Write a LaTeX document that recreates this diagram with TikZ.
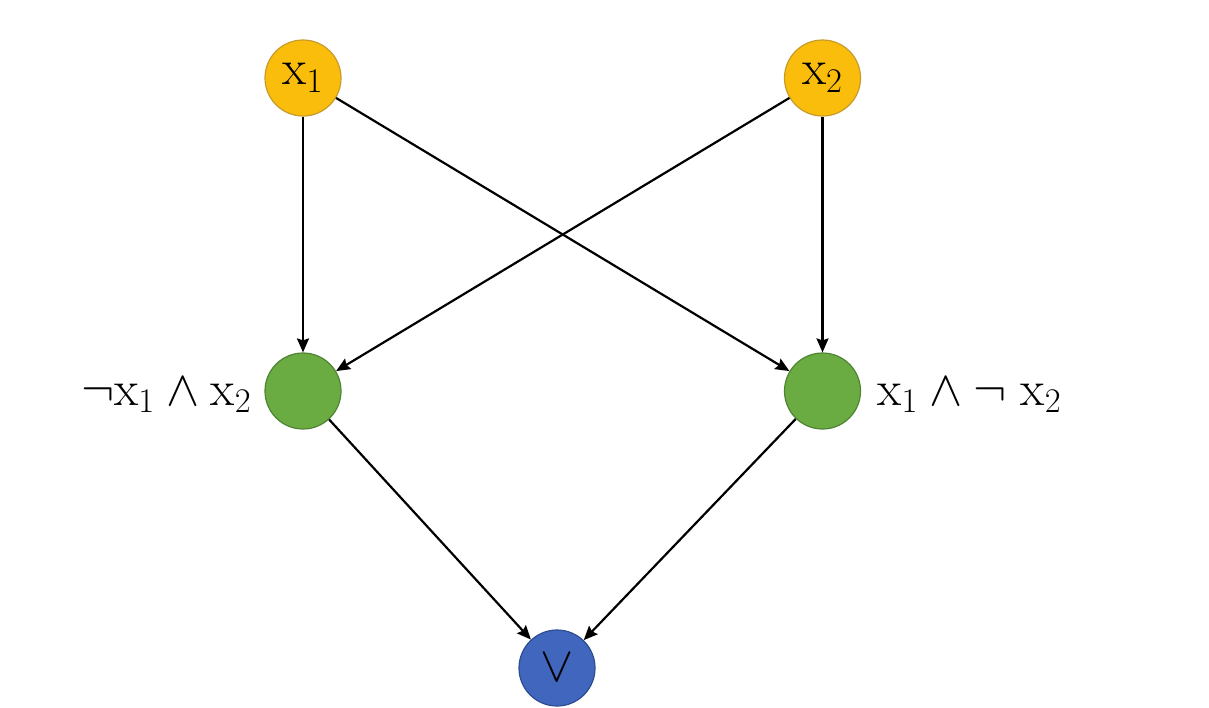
\documentclass[tikz,border=0pt]{standalone}
\usetikzlibrary{arrows.meta}
\definecolor{ygold}{HTML}{FBBD0C}
\definecolor{ygoldd}{HTML}{C79B2A}
\definecolor{ggreen}{HTML}{6BAC42}
\definecolor{ggreend}{HTML}{4E8433}
\definecolor{bblue}{HTML}{4066BE}
\definecolor{bblued}{HTML}{2E4C92}
\begin{document}
\begin{tikzpicture}[x=0.5pt,y=-0.5pt,
  vnode/.style={circle, minimum size=38pt, inner sep=0pt, line width=0.6pt, font=\fontsize{26}{31}\selectfont},
  lbl/.style={font=\fontsize{26.5}{32}\selectfont, inner sep=0pt},
  arr/.style={-{Stealth[length=7pt,width=6pt,inset=1pt]}, line width=1.1pt, black}]
\useasboundingbox (0,0) rectangle (1209,707);
\fill[white] (0,0) rectangle (1209,707);
\node[vnode, fill=ygold, draw=ygoldd] (x1) at (303,78) {$\mathrm{x}_1$};
\node[vnode, fill=ygold, draw=ygoldd] (x2) at (822.5,78) {$\mathrm{x}_2$};
\node[vnode, fill=ggreen, draw=ggreend] (g1) at (303,391) {};
\node[vnode, fill=ggreen, draw=ggreend] (g2) at (822.5,391) {};
\node[vnode, fill=bblue, draw=bblued] (v) at (557,668) {$\vee$};
\node[lbl, anchor=base east] (l1) at (252,405) {$\neg\mathrm{x}_1 \wedge \mathrm{x}_2$};
\node[lbl, anchor=base west] (l2) at (877,405) {$\mathrm{x}_1 \wedge \neg\;\mathrm{x}_2$};
\draw[arr] (x1) -- (g1);
\draw[arr] (x1) -- (g2);
\draw[arr] (x2) -- (g1);
\draw[arr] (x2) -- (g2);
\draw[arr] (g1) -- (v);
\draw[arr] (g2) -- (v);
\end{tikzpicture}
\end{document}
